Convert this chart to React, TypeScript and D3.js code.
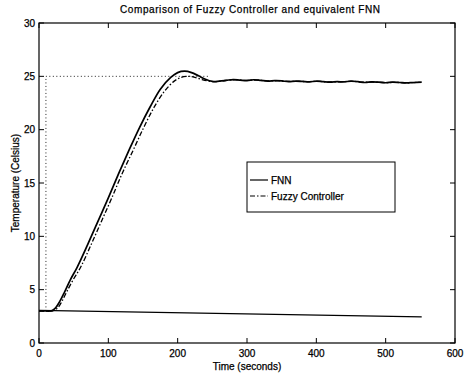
import {useEffect, useRef} from "react";
import * as d3 from "d3";

// FNN response (solid)
const fnnTime = [0, 10, 18, 24, 30, 37, 45, 55, 70, 85, 100, 115, 130, 145, 160, 175, 190, 200, 210, 220, 230, 240,
    250, 260, 270, 280, 290, 300, 310, 320, 330, 340, 350, 360, 370, 380, 390, 400, 410, 420, 430, 440, 450, 460,
    470, 480, 490, 500, 510, 520, 530, 540, 552];
const fnnTemp = [3.0, 3.0, 3.02, 3.3, 3.9, 4.8, 5.9, 7.1, 9.2, 11.4, 13.6, 15.9, 18.1, 20.2, 22.1, 23.8, 24.9, 25.35,
    25.48, 25.35, 25.05, 24.72, 24.52, 24.55, 24.62, 24.7, 24.65, 24.6, 24.68, 24.62, 24.55, 24.6, 24.58, 24.5, 24.55,
    24.52, 24.48, 24.55, 24.5, 24.45, 24.5, 24.48, 24.55, 24.5, 24.42, 24.48, 24.45, 24.4, 24.45, 24.42, 24.38,
    24.42, 24.45];

// Fuzzy controller response (dash-dot)
const fuzzyTime = [0, 10, 20, 27, 33, 40, 49, 60, 75, 90, 105, 120, 136, 151, 166, 181, 195, 205, 215, 225, 235,
    245, 255, 265, 275, 285, 295, 305, 315, 325, 335, 345, 355, 365, 375, 385, 395, 405, 415, 425, 435, 445, 455,
    465, 475, 485, 495, 505, 515, 525, 535, 545, 552];
const fuzzyTemp = [3.0, 3.0, 3.02, 3.3, 3.9, 4.8, 5.9, 7.1, 9.2, 11.4, 13.6, 15.9, 18.1, 20.2, 22.1, 23.6, 24.55,
    24.9, 25.0, 24.9, 24.7, 24.55, 24.5, 24.58, 24.66, 24.68, 24.62, 24.64, 24.65, 24.58, 24.57, 24.59, 24.54,
    24.52, 24.54, 24.5, 24.52, 24.52, 24.47, 24.48, 24.49, 24.52, 24.52, 24.46, 24.45, 24.46, 24.42, 24.42,
    24.43, 24.4, 24.4, 24.43, 24.45];

// set point (dotted) and the lower line
const setTime = [0, 10, 10, 245];
const setTemp = [3, 3, 25, 25];
const lowTime = [0, 552];
const lowTemp = [3.05, 2.45];

const xTicks = [0, 100, 200, 300, 400, 500, 600];
const yTicks = [0, 5, 10, 15, 20, 25, 30];

function App() {
    const ref = useRef<SVGSVGElement>(null);

    useEffect(() => {
        let margin = {top: 23, right: 12, bottom: 35, left: 39},
            width = 467 - margin.left - margin.right,
            height = 378 - margin.top - margin.bottom;

        let root = d3.select(ref.current);
        root.selectAll("*").remove();
        let svg = root.append("g")
            .attr("transform", "translate(" + margin.left + "," + margin.top + ")");

        let x = d3.scaleLinear().domain([0, 600]).range([0, width]);
        let y = d3.scaleLinear().domain([0, 30]).range([height, 0]);
        let font = "Liberation Sans, Arial, sans-serif";

        let line = d3.line<[number, number]>()
            .x(d => x(d[0]))
            .y(d => y(d[1]))
            .curve(d3.curveCatmullRom);
        let straight = d3.line<[number, number]>()
            .x(d => x(d[0]))
            .y(d => y(d[1]));

        // set point
        svg.append("path")
            .attr("d", straight(setTime.map((t, i) => [t, setTemp[i]])))
            .attr("fill", "none")
            .attr("stroke", "#222")
            .attr("stroke-width", 1)
            .attr("stroke-dasharray", "1,2.5");

        // lower line
        svg.append("path")
            .attr("d", straight(lowTime.map((t, i) => [t, lowTemp[i]])))
            .attr("fill", "none")
            .attr("stroke", "#000")
            .attr("stroke-width", 1.2);

        svg.append("path")
            .attr("d", line(fuzzyTime.map((t, i) => [t, fuzzyTemp[i]])))
            .attr("fill", "none")
            .attr("stroke", "#000")
            .attr("stroke-width", 1.3)
            .attr("stroke-dasharray", "5,2,1.5,2");

        svg.append("path")
            .attr("d", line(fnnTime.map((t, i) => [t, fnnTemp[i]])))
            .attr("fill", "none")
            .attr("stroke", "#000")
            .attr("stroke-width", 1.7);

        // box with inner ticks (matlab style)
        svg.append("rect")
            .attr("width", width).attr("height", height)
            .attr("fill", "none").attr("stroke", "#000").attr("stroke-width", 1.2);

        svg.selectAll("xt")
            .data(xTicks)
            .enter()
            .append("path")
            .attr("d", d => `M${x(d)},${height}v-5M${x(d)},0v5`)
            .attr("stroke", "#000");
        svg.selectAll("yt")
            .data(yTicks)
            .enter()
            .append("path")
            .attr("d", d => `M0,${y(d)}h5M${width},${y(d)}h-5`)
            .attr("stroke", "#000");

        let txt = (sel: any) => sel
            .attr("font-family", font)
            .attr("font-size", "10px")
            .attr("fill", "#000")
            .attr("stroke", "#000")
            .attr("stroke-width", 0.25);

        svg.selectAll("xl")
            .data(xTicks)
            .enter()
            .append("text")
            .attr("x", d => x(d))
            .attr("y", height + 14)
            .attr("text-anchor", "middle")
            .call(txt)
            .text(d => d);
        svg.selectAll("yl")
            .data(yTicks)
            .enter()
            .append("text")
            .attr("x", -4)
            .attr("y", d => y(d) + 3.5)
            .attr("text-anchor", "end")
            .call(txt)
            .text(d => d);

        // titles
        svg.append("text")
            .attr("x", width / 2 + 3)
            .attr("y", -10)
            .attr("text-anchor", "middle")
            .call(txt)
            .attr("textLength", 260)
            .text("Comparison of Fuzzy Controller and equivalent FNN");
        svg.append("text")
            .attr("x", width / 2)
            .attr("y", height + 27)
            .attr("text-anchor", "middle")
            .call(txt)
            .text("Time (seconds)");
        svg.append("text")
            .attr("transform", `translate(-20,${height / 2}) rotate(-90)`)
            .attr("text-anchor", "middle")
            .call(txt)
            .text("Temperature (Celsius)");

        // legend
        let lg = svg.append("g").attr("transform", "translate(" + (247 - margin.left) + "," + (162 - margin.top) + ")");
        lg.append("rect")
            .attr("width", 148).attr("height", 50)
            .attr("fill", "white").attr("stroke", "#000").attr("stroke-width", 1);
        lg.append("path").attr("d", "M3,18h18").attr("stroke", "#000").attr("stroke-width", 1.2);
        lg.append("path").attr("d", "M3,34h18").attr("stroke", "#000").attr("stroke-width", 1.2)
            .attr("stroke-dasharray", "5,2,1.5,2");
        lg.append("text").attr("x", 24).attr("y", 21.5).call(txt).text("FNN");
        lg.append("text").attr("x", 24).attr("y", 37.5).call(txt).text("Fuzzy Controller");
    }, []);

    return <svg ref={ref} width={467} height={378} style={{position: "absolute", left: 0, top: 0, background: "white"}}></svg>
}

export default App;
